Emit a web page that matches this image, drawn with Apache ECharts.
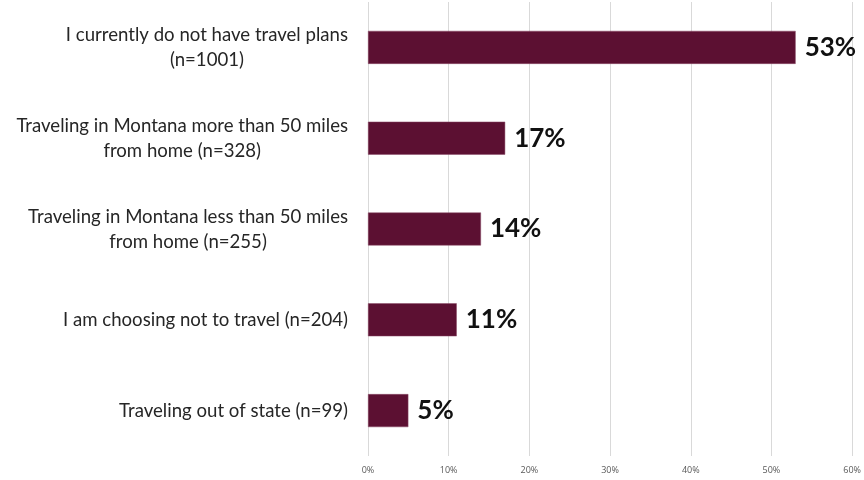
<!DOCTYPE html>
<html>
<head>
<meta charset="utf-8">
<script src="https://cdn.jsdelivr.net/npm/echarts@6/dist/echarts.min.js"></script>
<style>
  html, body { margin: 0; padding: 0; background: #ffffff; }
  #chart { width: 864px; height: 480px; }
</style>
</head>
<body>
<div id="chart"></div>
<script>
// Travel plans survey responses, top to bottom
const categories = [
  'I currently do not have travel plans\n(n=1001)',
  'Traveling in Montana more than 50 miles\nfrom home (n=328)',
  'Traveling in Montana less than 50 miles\nfrom home (n=255)',
  'I am choosing not to travel (n=204)',
  'Traveling out of state (n=99)'
];
const shares = [53, 17, 14, 11, 5];
const tickValues = [0, 10, 20, 30, 40, 50, 60];

const chart = echarts.init(document.getElementById('chart'));
chart.setOption({
  animation: false,
  grid: { left: 368, right: 11, top: 2, bottom: 24, containLabel: false },
  xAxis: {
    type: 'value',
    min: tickValues[0],
    max: tickValues[tickValues.length - 1],
    interval: 10,
    axisLine: { show: false },
    axisTick: { show: false },
    axisLabel: {
      formatter: '{value}%',
      color: '#595959',
      fontSize: 9,
      fontFamily: 'Open Sans',
      margin: 10
    },
    splitLine: { lineStyle: { color: '#d9d9d9', width: 1 } }
  },
  yAxis: {
    type: 'category',
    inverse: true,
    data: categories,
    axisLine: { show: false },
    axisTick: { show: false },
    axisLabel: {
      align: 'right',
      margin: 20,
      // each line centred inside the right-aligned label block
      formatter: function (value) {
        return value.split('\n').map(function (line) { return '{c|' + line + '}'; }).join('\n');
      },
      rich: {
        c: {
          align: 'center',
          color: '#262626',
          fontSize: 18.6,
          fontFamily: 'Lato',
          lineHeight: 25
        }
      }
    }
  },
  series: [{
    type: 'bar',
    data: shares,
    barWidth: 33,
    itemStyle: { color: '#5c1032', borderColor: '#8a4a66', borderWidth: 0.5 },
    label: {
      show: true,
      position: 'right',
      distance: 9,
      formatter: '{c}%',
      color: '#111111',
      fontSize: 26,
      fontWeight: 'bold',
      fontFamily: 'Lato'
    }
  }]
});
</script>
</body>
</html>
